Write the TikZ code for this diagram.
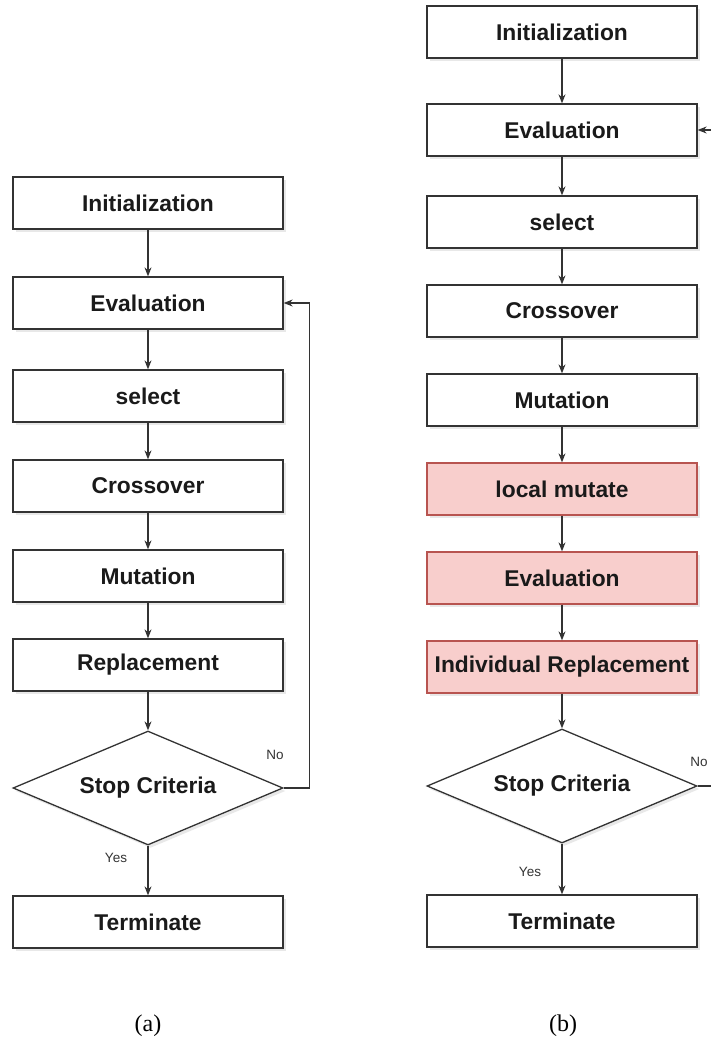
\documentclass[tikz,border=0pt]{standalone}
\usepackage{fontspec}
\setmainfont{Liberation Sans}
\newfontfamily\capfont{Liberation Serif}
\usepackage{xcolor}
\usetikzlibrary{shapes.geometric}
\usetikzlibrary{arrows.meta}
\usetikzlibrary{shadows}
\usetikzlibrary{math}

\definecolor{linegray}{HTML}{333333}
\definecolor{textgray}{HTML}{1A1A1A}
\definecolor{localfill}{HTML}{F8CECC}
\definecolor{localline}{HTML}{B85450}

\tikzset{
  stepbox/.style={draw=linegray, line width=1.3pt, fill=white,
    minimum width=270pt, minimum height=52pt, inner sep=0pt,
    font=\fontsize{22.8}{26}\selectfont\bfseries, text=textgray,
    drop shadow={opacity=0.18, shadow xshift=2.5pt, shadow yshift=-3pt}},
  localbox/.style={stepbox, fill=localfill, draw=localline},
  decision/.style={diamond, aspect=2.37, draw=linegray, line width=1.3pt, fill=white,
    minimum width=270pt, minimum height=114pt, inner sep=0pt,
    font=\fontsize{22.8}{26}\selectfont\bfseries, text=textgray,
    drop shadow={opacity=0.18, shadow xshift=2.5pt, shadow yshift=-3pt}},
  flow/.style={draw=linegray, line width=1.2pt, -{Stealth[length=9pt,width=7pt]}},
  plain/.style={draw=linegray, line width=1.2pt},
  branch/.style={font=\fontsize{13.5}{15}\selectfont, text=linegray},
  caption/.style={font=\capfont\fontsize{24}{27}\selectfont},
}

\begin{document}
\begin{tikzpicture}[x=1pt, y=-1pt]

  \tikzmath{
    \colA = 148; % centre of flow chart (a)
    \colB = 562; % centre of flow chart (b)
  }

  \useasboundingbox (0,0) rectangle (711,1041);

  % flow chart (a): plain genetic algorithm
  \node[stepbox] (initA) at (\colA,203) {Initialization};
  \node[stepbox] (evalA) at (\colA,303) {Evaluation};
  \node[stepbox] (selA)  at (\colA,396) {select};
  \node[stepbox] (crosA) at (\colA,486) {Crossover};
  \node[stepbox] (mutA)  at (\colA,576) {Mutation};
  \node[stepbox] (replA) at (\colA,665) {Replacement};
  \node[decision] (stopA) at (\colA,788) {Stop Criteria};
  \node[stepbox] (termA) at (\colA,922) {Terminate};

  \foreach \a/\b in {initA/evalA, evalA/selA, selA/crosA, crosA/mutA,
                     mutA/replA, replA/stopA, stopA/termA}
    \draw[flow] (\a) -- (\b);

  % loop back to the evaluation
  \draw[flow] (stopA.east) -- ++(26,0) |- (evalA.east);
  \node[branch] (noA)  at (275,755) {No};
  \node[branch] (yesA) at (116,858) {Yes};

  % flow chart (b): with local search steps
  \node[stepbox] (initB)  at (\colB,32)  {Initialization};
  \node[stepbox] (evalB)  at (\colB,130) {Evaluation};
  \node[stepbox] (selB)   at (\colB,222) {select};
  \node[stepbox] (crosB)  at (\colB,311) {Crossover};
  \node[stepbox] (mutB)   at (\colB,400) {Mutation};
  \node[localbox] (locB)  at (\colB,489) {local mutate};
  \node[localbox] (evlB)  at (\colB,578) {Evaluation};
  \node[localbox] (replB) at (\colB,667) {Individual Replacement};
  \node[decision] (stopB) at (\colB,786) {Stop Criteria};
  \node[stepbox] (termB)  at (\colB,921) {Terminate};

  \foreach \a/\b in {initB/evalB, evalB/selB, selB/crosB, crosB/mutB,
                     mutB/locB, locB/evlB, evlB/replB, replB/stopB, stopB/termB}
    \draw[flow] (\a) -- (\b);

  % loop of (b) runs past the right edge
  \coordinate (edgeIn)  at (711,130);
  \coordinate (edgeOut) at (711,786);
  \draw[flow]  (edgeIn) -- (evalB.east);
  \draw[plain] (stopB.east) -- (edgeOut);
  \node[branch] (noB)  at (699,762) {No};
  \node[branch] (yesB) at (530,872) {Yes};

  % captions
  \node[caption] (capA) at (\colA,1026) {(a)};
  \node[caption] (capB) at (563,1026) {(b)};

\end{tikzpicture}
\end{document}
